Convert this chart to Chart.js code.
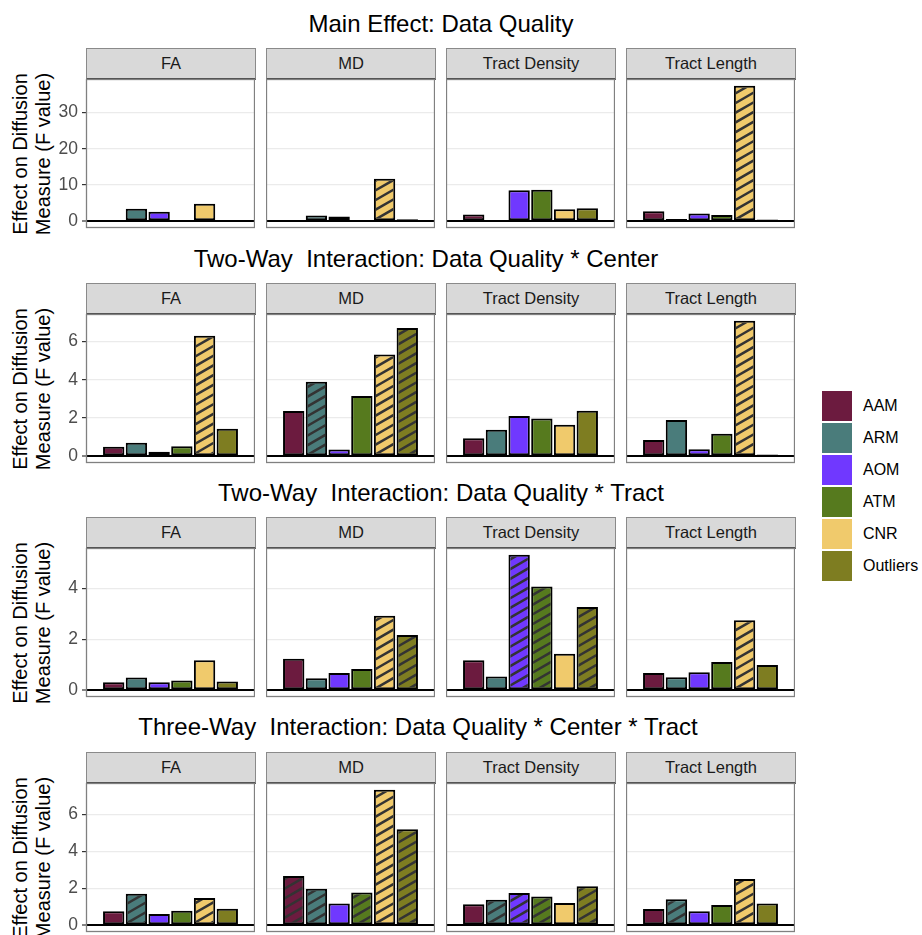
<!DOCTYPE html>
<html><head><meta charset="utf-8">
<script src="https://cdn.jsdelivr.net/npm/chart.js@4.4.1/dist/chart.umd.min.js"></script>
<style>
html,body{margin:0;padding:0;background:#fff;}
body{width:922px;height:935px;position:relative;overflow:hidden;font-family:"Liberation Sans",Arial,sans-serif;}
.title{position:absolute;width:800px;text-align:center;font-size:24px;line-height:28px;color:#000;white-space:pre;}
.strip{position:absolute;box-sizing:border-box;background:#D9D9D9;border:1px solid #8a8a8a;border-bottom:2px solid #555;text-align:center;font-size:16.5px;color:#1A1A1A;}
.ytitle{position:absolute;width:220px;height:46px;text-align:center;font-size:20px;line-height:23px;color:#000;transform:rotate(-90deg);white-space:nowrap;}
canvas{position:absolute;}
.key{position:absolute;width:30px;height:30px;}
.lab{position:absolute;font-size:16px;color:#000;line-height:20px;white-space:nowrap;}
</style></head><body>
<script>
// ---------------- data ----------------
const categories = ['AAM','ARM','AOM','ATM','CNR','Outliers'];
const colors = ['#6C1B3F','#4A7C7B','#7038FF','#567A1E','#F0CA6C','#7E7D21'];
const facets = ['FA','MD','Tract Density','Tract Length'];
const rowTitles = [
  'Main Effect: Data Quality',
  'Two-Way  Interaction: Data Quality * Center',
  'Two-Way  Interaction: Data Quality * Tract',
  'Three-Way  Interaction: Data Quality * Center * Tract'
];
const yTitle = ['Effect on Diffusion','Measure (F value)'];
const tickSteps = [10, 2, 2, 2];

// values per facet (FA, MD, Tract Density, Tract Length), bars in category order
const mainEffect = [
  [0.10, 3.47, 2.65, 0.05, 4.85, 0.35],
  [0.10, 1.55, 1.28, 0.05, 11.7, 0.55],
  [1.83, 0.35, 8.53, 8.70, 3.30, 3.57],
  [2.75, 0.63, 2.10, 1.74, 37.4, 0.45]
];
const mainSig = [
  [0,0,0,0,0,0],
  [0,0,0,0,1,0],
  [0,0,0,0,0,0],
  [0,0,0,0,1,0]
];
const centerEffect = [
  [0.49, 0.71, 0.23, 0.52, 6.30, 1.44],
  [2.37, 3.90, 0.35, 3.15, 5.32, 6.71],
  [0.94, 1.39, 2.10, 1.97, 1.65, 2.38],
  [0.85, 1.90, 0.37, 1.18, 7.09, 0.09]
];
const centerSig = [
  [0,0,0,0,1,0],
  [0,1,0,0,1,1],
  [0,0,0,0,0,0],
  [0,0,0,0,1,0]
];
const tractEffect = [
  [0.31, 0.50, 0.31, 0.38, 1.18, 0.34],
  [1.24, 0.47, 0.68, 0.84, 2.93, 2.17],
  [1.18, 0.54, 5.33, 4.08, 1.44, 3.27],
  [0.68, 0.51, 0.71, 1.11, 2.75, 0.99]
];
const tractSig = [
  [0,0,0,0,0,0],
  [0,0,0,0,1,1],
  [0,0,1,1,0,1],
  [0,0,0,0,1,0]
];
const threeWayEffect = [
  [0.75, 1.70, 0.61, 0.79, 1.47, 0.89],
  [2.67, 1.97, 1.18, 1.77, 7.33, 5.20],
  [1.13, 1.38, 1.74, 1.56, 1.20, 2.11],
  [0.88, 1.41, 0.75, 1.09, 2.50, 1.18]
];
const threeWaySig = [
  [0,1,0,0,1,0],
  [1,1,0,1,1,1],
  [0,1,1,1,0,1],
  [0,1,0,0,1,0]
];

const rows = [
  {values: mainEffect, sig: mainSig},
  {values: centerEffect, sig: centerSig},
  {values: tractEffect, sig: tractSig},
  {values: threeWayEffect, sig: threeWaySig}
];

// ---------------- layout ----------------
const FONT = '"Liberation Sans", Arial, sans-serif';
const STRIP_TOPS = [48, 283, 517, 752];
const TITLE_CENTERS_X = [441, 426, 441, 418];
const TITLE_CENTERS_Y = [24, 259, 493, 727];
const STRIP_H = 31, PANEL_H = 149, PANEL_W = 169, PANEL_X0 = 86, COL_PITCH = 180, AXIS_W = 86, PAD_B = 6;

const panelPlugin = {
  id: 'panel',
  afterDatasetsDraw(chart, args, opts) {
    const ctx = chart.ctx;
    const meta = chart.getDatasetMeta(0);
    const sig = opts.sig || [];
    const s = Math.sin(Math.PI / 6), c = Math.cos(Math.PI / 6);
    const d = 8.4, bw = 2;
    meta.data.forEach((el, i) => {
      if (!sig[i]) return;
      const p = el.getProps(['x', 'y', 'base', 'width'], true);
      const l = p.x - p.width / 2 + bw, r = p.x + p.width / 2 - bw;
      const t = Math.min(p.y, p.base) + bw, b = Math.max(p.y, p.base) - bw;
      if (r <= l || b <= t) return;
      ctx.save();
      ctx.beginPath(); ctx.rect(l, t, r - l, b - t); ctx.clip();
      ctx.strokeStyle = '#333333'; ctx.lineWidth = 2.5;
      const kmin = l * s + t * c, kmax = r * s + b * c;
      ctx.beginPath();
      for (let k = Math.floor(kmin / d) * d; k <= kmax + d; k += d) {
        const x1 = l - 60, x2 = r + 60;
        ctx.moveTo(x1, (k - x1 * s) / c);
        ctx.lineTo(x2, (k - x2 * s) / c);
      }
      ctx.stroke();
      ctx.restore();
    });
  },
  afterDraw(chart) {
    const {ctx, chartArea: a} = chart;
    ctx.save();
    ctx.strokeStyle = '#808080'; ctx.lineWidth = 1.3;
    ctx.strokeRect(a.left + 0.5, a.top + 0.5, a.right - a.left - 1, a.bottom - a.top - 1);
    ctx.restore();
  }
};

function addDiv(cls, text, style) {
  const el = document.createElement('div');
  el.className = cls;
  if (text !== null) el.textContent = text;
  Object.assign(el.style, style);
  document.body.appendChild(el);
  return el;
}

rows.forEach((row, r) => {
  addDiv('title', rowTitles[r], {left: (TITLE_CENTERS_X[r] - 400) + 'px', top: (TITLE_CENTERS_Y[r] - 14) + 'px'});
  const rowMax = Math.max(...row.values.flat());
  const yMin = -0.05 * rowMax, yMax = 1.05 * rowMax;
  const step = tickSteps[r];
  const stripTop = STRIP_TOPS[r];
  const panelTop = stripTop + STRIP_H;
  // y-axis title (two lines, rotated)
  const yt = addDiv('ytitle', null, {left: (31.5 - 110) + 'px', top: (panelTop + PANEL_H / 2 - 23) + 'px'});
  yTitle.forEach(line => { const d = document.createElement('div'); d.textContent = line; yt.appendChild(d); });

  facets.forEach((facet, c) => {
    const panelLeft = PANEL_X0 + c * COL_PITCH;
    addDiv('strip', facet, {left: panelLeft + 'px', top: stripTop + 'px', width: (PANEL_W + 1) + 'px', height: (STRIP_H + 1) + 'px', lineHeight: (STRIP_H - 2) + 'px'});
    const cv = document.createElement('canvas');
    const first = c === 0;
    const cLeft = first ? panelLeft - AXIS_W : panelLeft;
    const cWidth = first ? AXIS_W + PANEL_W : PANEL_W;
    cv.width = cWidth; cv.height = PANEL_H + PAD_B;
    cv.style.left = cLeft + 'px'; cv.style.top = panelTop + 'px';
    cv.style.width = cWidth + 'px'; cv.style.height = (PANEL_H + PAD_B) + 'px';
    document.body.appendChild(cv);
    new Chart(cv, {
      type: 'bar',
      data: {datasets: [{
        data: row.values[c].map((v, i) => ({x: i, y: v})),
        backgroundColor: colors,
        borderColor: '#000000',
        borderWidth: 2,
        borderSkipped: false,
        barPercentage: 0.94,
        categoryPercentage: 1
      }]},
      options: {
        responsive: false, animation: false, events: [], devicePixelRatio: 1,
        layout: {padding: {bottom: PAD_B, top: 0, left: 0, right: 0}},
        plugins: {legend: {display: false}, tooltip: {enabled: false}, panel: {sig: row.sig[c]}},
        scales: {
          x: {
            type: 'linear', min: -0.6, max: 5.6, display: false,
            afterBuildTicks: s => { s.ticks = categories.map((_, i) => ({value: i})); }
          },
          y: {
            min: yMin, max: yMax,
            ticks: {stepSize: step, display: first, color: '#4D4D4D', font: {size: 17.5, family: FONT}, padding: 4},
            afterBuildTicks: s => {
              const t = [];
              for (let v = 0; v <= yMax + 1e-9; v += step) t.push({value: v});
              s.ticks = t;
            },
            afterFit: s => { s.width = first ? AXIS_W : 0; s.paddingTop = 0; s.paddingBottom = 0; },
            grid: {
              color: ctx => (ctx.tick && Math.abs(ctx.tick.value) < 1e-9) ? '#000000' : '#EBEBEB',
              lineWidth: ctx => (ctx.tick && Math.abs(ctx.tick.value) < 1e-9) ? 2 : 1.2,
              drawTicks: first, tickLength: 4, tickColor: '#333333', tickWidth: 1.2
            },
            border: {display: false},
            title: {display: false}
          }
        }
      },
      plugins: [panelPlugin]
    });
  });
});

// legend
categories.forEach((cat, i) => {
  const top = 391 + i * 32;
  addDiv('key', null, {left: '822px', top: top + 'px', background: colors[i]});
  addDiv('lab', cat, {left: '863px', top: (top + 5) + 'px'});
});
</script>
</body></html>
